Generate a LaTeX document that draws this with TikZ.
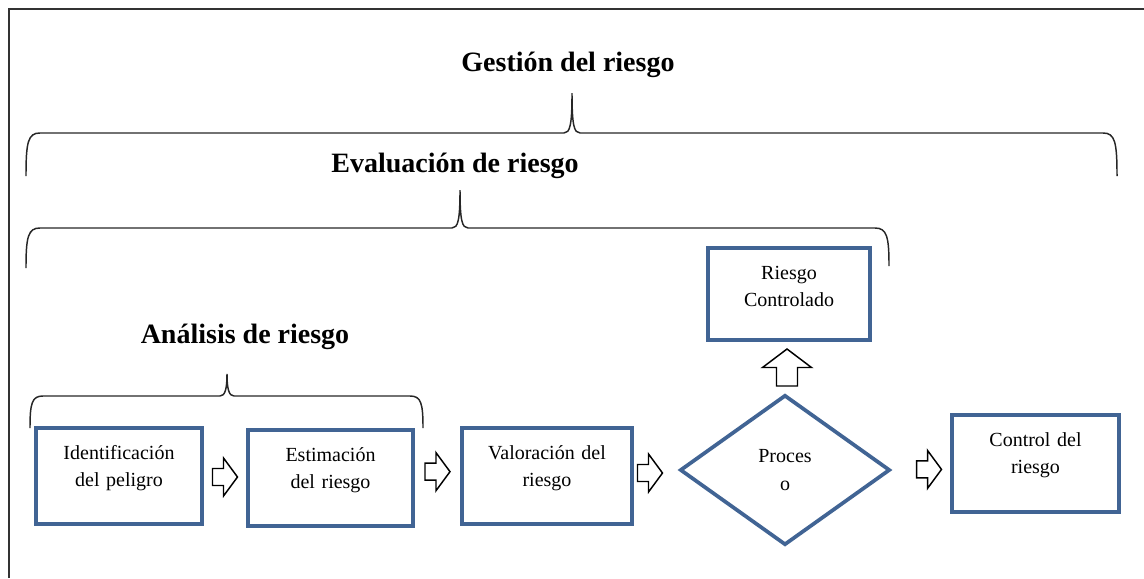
\documentclass[tikz,border=0pt]{standalone}
\usepackage{fontspec}
\setmainfont{Liberation Serif}
\usetikzlibrary{shapes.geometric,calc}
\definecolor{azulcaja}{RGB}{65,100,148}
\newcommand{\ftitulo}{\fontsize{21}{25}\selectfont\bfseries}
\newcommand{\fcaja}{\fontsize{15}{20.5}\selectfont}
\tikzset{
  caja/.style={draw=azulcaja, line width=2.8pt, inner sep=0pt, align=center,
    text height=23.25pt, text depth=48.75pt, font=\fcaja},
  rombo/.style={draw=azulcaja, line width=2.8pt, diamond, inner sep=0pt, align=center,
    minimum width=157.5pt, minimum height=112.5pt, font=\fcaja},
  titulo/.style={anchor=base, inner sep=0pt, font=\ftitulo},
  llave/.style={line width=1.1pt, draw=black!85},
  flechader/.pic={\draw[line width=1.1pt] (-12.5,-8.5) -- (-1.5,-8.5) -- (-1.5,-19) -- (12.5,0) -- (-1.5,19) -- (-1.5,8.5) -- (-12.5,8.5) -- cycle;},
  flechasub/.pic={\draw[line width=1.1pt] (-10.5,-18.5) -- (-10.5,0) -- (-24.5,0) -- (0,18.5) -- (24.5,0) -- (10.5,0) -- (10.5,-18.5) -- cycle;}
}
\begin{document}
\begin{tikzpicture}[x=0.75pt,y=0.75pt,yscale=-1,xscale=1]
\useasboundingbox (0,0) rectangle (1144,578);

%frame
\draw[line width=1.5pt, draw=black!80] (9,578) -- (9,8.5) -- (1144,8.5);

%titles
\node[titulo] (gest) at (568,71) {Gestión del riesgo};
\node[titulo] (eval) at (455,172) {Evaluación de riesgo};
\node[titulo] (anal) at (245,343) {Análisis de riesgo};

%braces
\draw[llave] (26,176) .. controls (26,142) and (28,133) .. (40,133) -- (564,133) .. controls (570,133) and (572,125) .. (572,93) .. controls (572,125) and (574,133) .. (580,133) -- (1103,133) .. controls (1115,133) and (1117,142) .. (1117,176);
\draw[llave] (26,268) .. controls (26,237) and (28,228) .. (40,228) -- (452,228) .. controls (458,228) and (460,220) .. (460,190) .. controls (460,220) and (462,228) .. (468,228) -- (875,228) .. controls (887,228) and (889,237) .. (889,266);
\draw[llave] (30,428) .. controls (30,403) and (32,396) .. (43,396) -- (220,396) .. controls (225,396) and (227,389) .. (227,374) .. controls (227,389) and (229,396) .. (234,396) -- (410,396) .. controls (421,396) and (423,403) .. (423,428);

%boxes
\node[caja, text width=124.5pt] (ident) at (119,476) {Identificación\\del peligro};
\node[caja, text width=123.75pt] (estim) at (330.5,478) {Estimación\\del riesgo};
\node[caja, text width=127.5pt] (valor) at (547,476) {Valoración del\\riesgo};
\node[rombo] (proc) at (785,470) {Proces\\o};
\node[caja, text width=121.5pt, text depth=45.75pt] (contro) at (789,294) {Riesgo\\Controlado};
\node[caja, text width=125.25pt, text depth=49.5pt] (ctrl) at (1035.5,463.5) {Control del\\riesgo};

%block arrows
\pic at ($(ident.east)!0.5!(estim.west)$) {flechader};
\pic[yshift=4pt] at ($(estim.east)!0.5!(valor.west)$) {flechader};
\pic[xshift=-4.5pt] at ($(valor.east)!0.5!(proc.west)$) {flechader};
\pic[xshift=6pt, yshift=-2pt] at ($(proc.east)!0.5!(ctrl.west)$) {flechader};
\pic at ($(proc.north)!0.5!(contro.south)$) {flechasub};
\end{tikzpicture}
\end{document}
